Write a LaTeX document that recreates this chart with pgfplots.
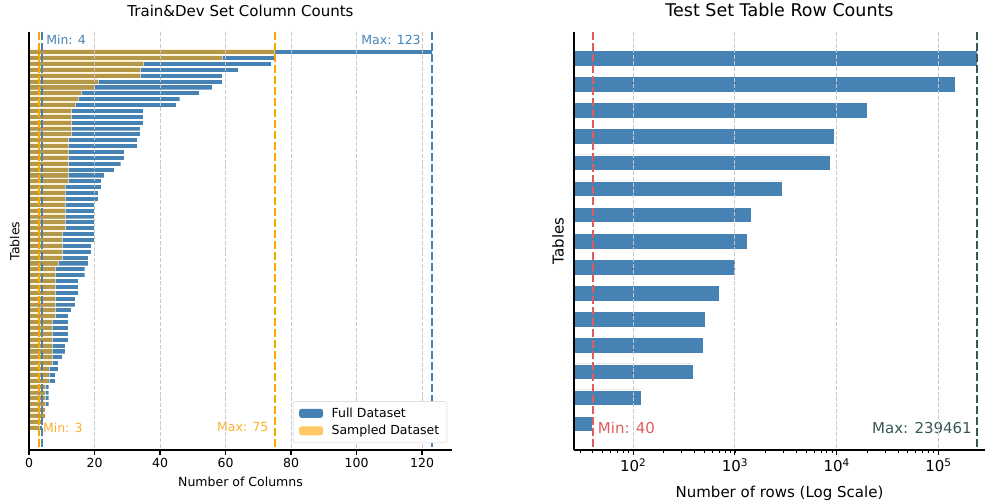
\documentclass[border=0pt]{standalone}
\usepackage{pgfplots}
\pgfplotsset{compat=1.18}
\usepackage{pgfplotstable}
\usepackage{fontspec}
\setmainfont{DejaVu Sans}

\definecolor{steel}{RGB}{70,130,180}
\definecolor{samp}{RGB}{255,165,0}
\definecolor{samptext}{RGB}{255,175,45}
\definecolor{minred}{RGB}{222,92,92}
\definecolor{maxslate}{RGB}{55,88,88}
\definecolor{gridgray}{RGB}{200,200,200}

% train & dev: column counts per table (full vs sampled), sorted
\pgfplotstableread{
idx full sampled
1 123 75
2 75 59
3 74 35
4 64 34
5 59 34
6 59 21
7 56 20
8 52 16
9 46 15
10 45 14
11 35 13
12 35 13
13 35 13
14 34 13
15 34 13
16 33 12
17 33 12
18 29 12
19 29 12
20 28 12
21 26 12
22 23 12
23 22 12
24 22 11
25 21 11
26 21 11
27 20 11
28 20 11
29 20 11
30 20 11
31 20 11
32 20 10
33 20 10
34 19 10
35 19 10
36 18 10
37 18 9
38 17 8
39 17 8
40 15 8
41 15 8
42 15 8
43 14 8
44 14 8
45 13 8
46 12 8
47 12 7
48 12 7
49 12 7
50 12 7
51 11 7
52 11 7
53 10 7
54 9 7
55 9 6
56 8 6
57 8 6
58 6 5
59 6 5
60 6 5
61 6 5
62 5 5
63 5 5
64 4 4
65 4 3
}\trainTbl

% test set: row counts per table
\pgfplotstableread{
idx rows
1 239461
2 146000
3 19800
4 9400
5 8700
6 2950
7 1460
8 1320
9 1000
10 700
11 515
12 493
13 393
14 121
15 40
}\testTbl

\pgfplotsset{
  mpl/.style={
    scale only axis,
    height=418pt,
    axis x line*=bottom, axis y line*=left,
    ytick=\empty,
    y dir=reverse,
    axis on top,
    xmajorgrids,
    major grid style={gridgray, line width=1pt, dash pattern=on 4pt off 1.8pt},
    tick align=outside,
    major tick length=4.9pt, minor tick length=2.8pt,
    every tick/.style={black, line width=1.1pt},
    minor tick style={black, line width=0.8pt},
    axis line style={line width=1.1pt},
    /pgf/number format/assume math mode=true,
  },
  vline/.style={forget plot, line width=2pt, dash pattern=on 7.7pt off 3.3pt},
}

\begin{document}
\begin{tikzpicture}
\path[use as bounding box] (-29pt,-53pt) rectangle (956pt,450pt);

\begin{axis}[
  mpl,
  width=423pt,
  xmin=0, xmax=129.15,
  ymin=-2.4, ymax=68.85,
  xtick={0,20,...,120},
  ticklabel style={font=\fontsize{12.5}{15}\selectfont},
  title={Train\&Dev Set Column Counts},
  title style={font=\fontsize{15}{18}\selectfont, at={(0.5,1)}, anchor=base, yshift=9.5pt},
  xlabel={Number of Columns},
  xlabel style={font=\fontsize{12.5}{15}\selectfont, at={(0.5,0)}, anchor=base, yshift=-36.5pt},
  ylabel={Tables},
  ylabel style={font=\fontsize{12.5}{15}\selectfont, at={(-0.0225,0.5)}, anchor=base, rotate=0},
  legend image code/.code={\draw[#1, draw=none] (0pt,-4.5pt) rectangle (24pt,4.5pt);},
  legend style={at={(1,0)}, anchor=south east, xshift=-5pt, yshift=7pt,
    font=\fontsize{12.5}{15}\selectfont, draw=black!18, rounded corners=2.5pt,
    fill=white, row sep=3.5pt,
    inner xsep=6pt, inner ysep=5pt,
    nodes={inner sep=1.5pt},
    /tikz/every odd column/.append style={column sep=7pt}},
  legend cell align=left,
]
\addplot[xbar, bar shift=0pt, bar width=0.86, fill=steel, draw=white, line width=0.3pt]
  table[x=full, y=idx] {\trainTbl};
\addlegendentry{Full Dataset}
\addplot[xbar, bar shift=0pt, bar width=0.86, fill=samp, fill opacity=0.6, draw=white, draw opacity=0.6, line width=0.3pt]
  table[x=sampled, y=idx] {\trainTbl};
\addlegendentry{Sampled Dataset}

\addplot[vline, steel] coordinates {(4,-2.4) (4,68.85)};
\addplot[vline, steel] coordinates {(123,-2.4) (123,68.85)};
\addplot[vline, samp] coordinates {(3,-2.4) (3,68.85)};
\addplot[vline, samp] coordinates {(75,-2.4) (75,68.85)};

\node[anchor=west, inner sep=0pt, xshift=4pt, text=steel, font=\fontsize{12.5}{15}\selectfont] at (axis cs:4,-1) {Min: 4};
\node[anchor=east, inner sep=0pt, xshift=-11pt, text=steel, font=\fontsize{12.5}{15}\selectfont] at (axis cs:123,-1) {Max: 123};
\node[anchor=west, inner sep=0pt, xshift=4pt, text=samptext, font=\fontsize{12.5}{15}\selectfont] at (axis cs:3,65) {Min: 3};
\node[anchor=east, inner sep=0pt, xshift=-6pt, text=samptext, font=\fontsize{12.5}{15}\selectfont] at (axis cs:75,65) {Max: 75};
\end{axis}

\begin{axis}[
  mpl,
  at={(545pt,0pt)}, anchor=south west,
  width=411pt,
  xmode=log,
  xmin=26.2, xmax=287000,
  ymin=0, ymax=16,
  log number format basis/.code 2 args={#1\textsuperscript{\pgfmathprintnumber{#2}}},
  ticklabel style={font=\fontsize{15}{18}\selectfont},
  title={Test Set Table Row Counts},
  title style={font=\fontsize{17.5}{21}\selectfont, at={(0.5,1)}, anchor=base, yshift=9.5pt},
  xlabel={Number of rows (Log Scale)},
  xlabel style={font=\fontsize{15}{18}\selectfont, at={(0.5,0)}, anchor=base, yshift=-47pt},
  ylabel={Tables},
  ylabel style={font=\fontsize{15}{18}\selectfont, at={(-0.0255,0.5)}, anchor=base, rotate=0},
]
\addplot[xbar, bar shift=0pt, bar width=0.6, fill=steel, draw=white, line width=0.5pt]
  table[x=rows, y=idx] {\testTbl};

\addplot[vline, minred] coordinates {(40,0) (40,16)};
\addplot[vline, maxslate] coordinates {(239461,0) (239461,16)};

\node[anchor=west, inner sep=0pt, xshift=5pt, text=minred, font=\fontsize{15}{18}\selectfont] at (axis cs:40,15.15) {Min: 40};
\node[anchor=east, inner sep=0pt, xshift=-5pt, text=maxslate, font=\fontsize{15}{18}\selectfont] at (axis cs:239461,15.15) {Max: 239461};
\end{axis}
\end{tikzpicture}
\end{document}
